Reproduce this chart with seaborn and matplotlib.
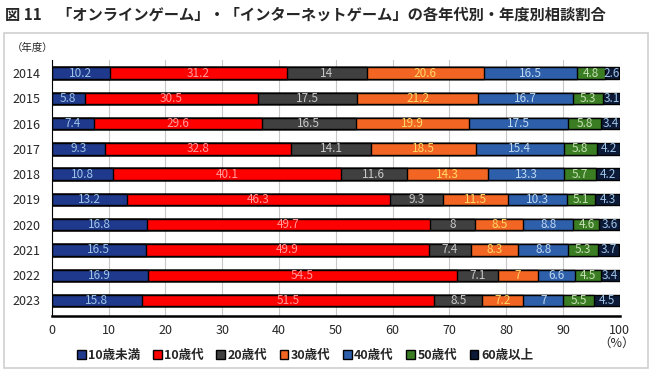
import numpy as np
import pandas as pd
import matplotlib
matplotlib.use("Agg")
import matplotlib.pyplot as plt
import seaborn as sns
from matplotlib.patches import Rectangle, Patch

years = ["2014", "2015", "2016", "2017", "2018", "2019", "2020", "2021", "2022", "2023"]
groups = ["10歳未満", "10歳代", "20歳代", "30歳代", "40歳代", "50歳代", "60歳以上"]
under10 = [10.2, 5.8, 7.4, 9.3, 10.8, 13.2, 16.8, 16.5, 16.9, 15.8]
teens = [31.2, 30.5, 29.6, 32.8, 40.1, 46.3, 49.7, 49.9, 54.5, 51.5]
twenties = [14, 17.5, 16.5, 14.1, 11.6, 9.3, 8, 7.4, 7.1, 8.5]
thirties = [20.6, 21.2, 19.9, 18.5, 14.3, 11.5, 8.5, 8.3, 7, 7.2]
forties = [16.5, 16.7, 17.5, 15.4, 13.3, 10.3, 8.8, 8.8, 6.6, 7]
fifties = [4.8, 5.3, 5.8, 5.8, 5.7, 5.1, 4.6, 5.3, 4.5, 5.5]
over60 = [2.6, 3.1, 3.4, 4.2, 4.2, 4.3, 3.6, 3.7, 3.4, 4.5]

bar_colors = ["#1f3a8c", "#ff0000", "#404040", "#f26522", "#2e5fab", "#3b7d23", "#0c1a38"]
text_colors = ["#9dc3e6", "#ff9b9b", "#c8c8c8", "#ffd966", "#bdd7ee", "#c5e0b4", "#9dc3e6"]

series = [under10, teens, twenties, thirties, forties, fifties, over60]
df = pd.DataFrame({g: v for g, v in zip(groups, series)}, index=years)
cum = df.cumsum(axis=1)

sns.set_style("white")
plt.rcParams["font.family"] = ["Noto Sans CJK JP", "DejaVu Sans"]

fig = plt.figure(figsize=(6.56, 3.75), dpi=100)
fig.patches.append(Rectangle((0.006, 0.02), 0.982, 0.892, transform=fig.transFigure,
                             fill=False, edgecolor="#d0d0d0", linewidth=1.2))
ax = fig.add_axes([0.079, 0.157, 0.866, 0.683])

# draw cumulative bars from the widest down so each segment shows
for i in range(len(groups) - 1, -1, -1):
    g = groups[i]
    sns.barplot(x=cum[g].values, y=years, orient="h", ax=ax, color=bar_colors[i],
                width=0.45, edgecolor="black", linewidth=1.0, saturation=1)

for i, g in enumerate(groups):
    left = cum[g] - df[g]
    for j, y in enumerate(years):
        v = df[g].iloc[j]
        ax.text(left.iloc[j] + v / 2, j, f"{v:g}", ha="center", va="center",
                color=text_colors[i], fontsize=8.5)

ax.set_xlim(0, 100)
ax.set_ylim(9.62, -0.52)
ax.set_xticks(range(0, 101, 10))
ax.xaxis.grid(True, color="#c8c8c8", linewidth=0.8)
ax.set_axisbelow(True)
for s in ["top", "right"]:
    ax.spines[s].set_visible(False)
ax.spines["left"].set_color("black")
ax.spines["bottom"].set_color("black")
ax.spines["bottom"].set_linewidth(1.8)
ax.tick_params(axis="x", direction="in", length=3, labelsize=9, pad=6)
ax.tick_params(axis="y", length=0, labelsize=9, pad=8)
ax.set_xlabel("")
ax.set_ylabel("")

fig.text(0.008, 0.962, "図 11　「オンラインゲーム」・「インターネットゲーム」の各年代別・年度別相談割合",
         fontsize=11, fontweight="bold", va="center")
fig.text(0.018, 0.872, "（年度）", fontsize=7.5, va="center")
fig.text(0.912, 0.085, "（%）", fontsize=9, va="center")

handles = [Patch(facecolor=c, edgecolor="black", label=g) for c, g in zip(bar_colors, groups)]
fig.legend(handles=handles, loc="center", bbox_to_anchor=(0.465, 0.052), ncol=7, frameon=False,
           prop={"size": 9, "weight": "bold"},
           handlelength=0.7, handleheight=0.7, handletextpad=0.2, columnspacing=1.0)

fig.savefig("out.png", dpi=100)
